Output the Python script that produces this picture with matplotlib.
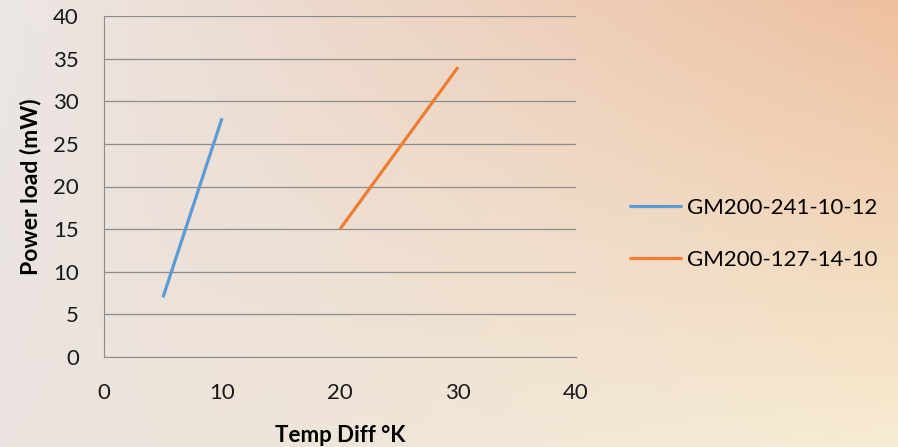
import numpy as np
import matplotlib.pyplot as plt

plt.rcParams['font.family'] = ['Lato', 'DejaVu Sans']

# data
gm241_x = [5, 10]
gm241_y = [7, 28]
gm127_x = [20, 30]
gm127_y = [15, 34]
series_names = ['GM200-241-10-12', 'GM200-127-14-10']
x_ticks = [0, 10, 20, 30, 40]
y_ticks = [0, 5, 10, 15, 20, 25, 30, 35, 40]

fig = plt.figure(figsize=(8.98, 4.47), dpi=100)

# soft gradient background
bg = fig.add_axes([0, 0, 1, 1], zorder=-1)
tl = np.array([236, 231, 229]) / 255
tr = np.array([238, 192, 160]) / 255
bl = np.array([234, 226, 222]) / 255
br = np.array([247, 236, 210]) / 255
u = np.linspace(0, 1, 200)[None, :, None]
v = np.linspace(0, 1, 100)[:, None, None]
grad = (1 - v) * ((1 - u) * tl + u * tr) + v * ((1 - u) * bl + u * br)
bg.imshow(grad, aspect='auto', extent=[0, 1, 0, 1])
bg.axis('off')

ax = fig.add_axes([104 / 898, 1 - 357 / 447, 472 / 898, 341 / 447])
ax.patch.set_alpha(0)
l1, = ax.plot(gm241_x, gm241_y, color='#5b9bd5', lw=2.3, solid_capstyle='butt')
l2, = ax.plot(gm127_x, gm127_y, color='#ed7d31', lw=2.3, solid_capstyle='butt')

ax.set_xlim(0, 40)
ax.set_ylim(0, 40)
ax.set_xticks(x_ticks)
ax.set_yticks(y_ticks)
ax.tick_params(length=0, labelsize=16, labelcolor='#1a1a1a')
ax.tick_params(axis='y', pad=18)
ax.tick_params(axis='x', pad=19)
ax.grid(axis='y', color='#8c8c8c', lw=0.9)
ax.set_axisbelow(True)
for s in ['top', 'right']:
    ax.spines[s].set_visible(False)
ax.spines['left'].set_color('#8c8c8c')
ax.spines['bottom'].set_color('#8c8c8c')

ax.set_xlabel('Temp Diff °K', fontsize=16, fontweight='bold', va='center')
ax.set_ylabel('Power load (mW)', fontsize=16.5, fontweight='bold', va='center')
ax.xaxis.set_label_coords(0.5, (357 - 435) / 341)
ax.yaxis.set_label_coords((30 - 104) / 472, 0.5)

fig.legend([l1, l2], series_names, loc='center left',
           bbox_to_anchor=(629 / 898, 1 - 234 / 447), frameon=False,
           borderpad=0, borderaxespad=0, fontsize=16, handlelength=2.4,
           handletextpad=0.2, labelspacing=1.45)

fig.savefig('out.png', dpi=100)
